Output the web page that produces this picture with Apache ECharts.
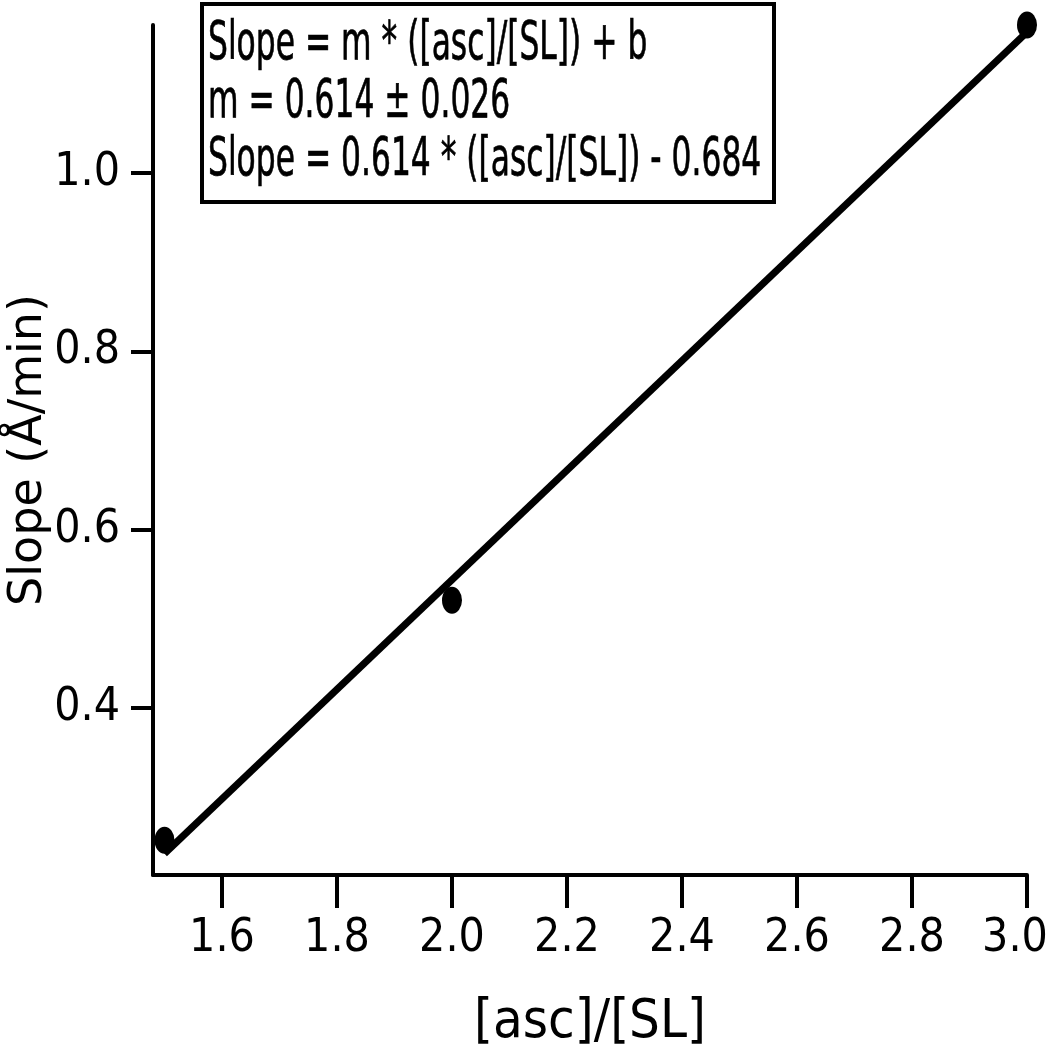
<!DOCTYPE html>
<html>
<head>
    <meta charset="utf-8">
    <title>Slope vs [asc]/[SL]</title>
    <script type="text/javascript" src="https://cdn.jsdelivr.net/npm/echarts@6/dist/echarts.min.js"></script>
    <style>
        html, body { margin: 0; padding: 0; background: #fff; }
    </style>
</head>
<body>
    <div id="chart" style="width: 1050px;height:1050px;"></div>
<script type="text/javascript">
    // measured points
    var ratio = [1.5, 2.0, 3.0];
    var slope = [0.252, 0.521, 1.166];
    // fitted line end points (Slope = 0.614 * x - 0.684)
    var fitX = [1.5, 3.0];
    var fitY = [0.237, 1.158];
    // tick labels
    var xTicks = [1.6, 1.8, 2.0, 2.2, 2.4, 2.6, 2.8, 3.0];
    var yTicks = [0.4, 0.6, 0.8, 1.0];
    var fitText = [
        'Slope = m * ([asc]/[SL]) + b',
        'm = 0.614 \u00b1 0.026',
        'Slope = 0.614 * ([asc]/[SL]) - 0.684'
    ];

    var narrow = '"Liberation Sans Narrow", "DejaVu Sans Condensed", sans-serif';

    var chart = echarts.init(document.getElementById("chart"));
    chart.setOption({
        animation: false,
        backgroundColor: '#fff',
        grid: {
            left: 153, right: 23, top: 25, bottom: 175,
            containLabel: false,
            outerBoundsMode: 'none'
        },
        xAxis: {
            type: 'value',
            min: 1.48, max: 3.0,
            name: '[asc]/[SL]',
            nameLocation: 'middle',
            nameGap: 121,
            nameMoveOverlap: false,
            nameTextStyle: { fontFamily: narrow, fontSize: 54, color: '#000' },
            axisLine: { show: true, lineStyle: { color: '#000', width: 4 } },
            axisTick: { show: true, length: 33, lineStyle: { color: '#000', width: 4 }, customValues: xTicks },
            axisLabel: {
                margin: 41, fontFamily: narrow, fontSize: 46, color: '#000',
                customValues: xTicks,
                // last label pulled in a little so it stays on the page
                formatter: function (v) {
                    return v >= 3 ? '{last|' + v.toFixed(1) + '}' : v.toFixed(1);
                },
                rich: {
                    last: { fontFamily: narrow, fontSize: 46, color: '#000', padding: [0, 24, 0, 0] }
                }
            },
            splitLine: { show: false }
        },
        yAxis: {
            type: 'value',
            min: 0.213, max: 1.166,
            name: 'Slope (\u00c5/min)',
            nameLocation: 'middle',
            nameGap: 101,
            nameRotate: 90,
            nameMoveOverlap: false,
            nameTextStyle: { fontFamily: '"DejaVu Sans", sans-serif', fontSize: 46, color: '#000' },
            axisLine: { show: true, lineStyle: { color: '#000', width: 4 } },
            axisTick: { show: true, length: 22, lineStyle: { color: '#000', width: 4 }, customValues: yTicks },
            axisLabel: {
                margin: 33, fontFamily: narrow, fontSize: 46, color: '#000',
                customValues: yTicks,
                formatter: function (v) { return v.toFixed(1); }
            },
            splitLine: { show: false }
        },
        graphic: [
            {
                type: 'rect',
                left: 200, top: 2,
                shape: { width: 572, height: 198 },
                style: { fill: '#fff', stroke: '#000', lineWidth: 4 },
                z: 10
            },
            {
                type: 'text',
                x: 208, y: 16,
                scaleX: 0.645,
                style: {
                    text: fitText.join('\n'),
                    font: '54px ' + narrow,
                    lineHeight: 58,
                    fill: '#000',
                    stroke: '#000',
                    lineWidth: 0.7
                },
                z: 11
            }
        ],
        series: [
            {
                name: 'fit',
                type: 'line',
                data: fitX.map(function (x, i) { return [x, fitY[i]]; }),
                symbol: 'none',
                lineStyle: { color: '#000', width: 7 },
                z: 2
            },
            {
                name: 'data',
                type: 'scatter',
                data: ratio.map(function (x, i) { return [x, slope[i]]; }),
                symbol: 'circle',
                symbolSize: [20, 27],
                itemStyle: { color: '#000', opacity: 1 },
                clip: false,
                z: 3
            }
        ]
    });
</script>
</body>
</html>
